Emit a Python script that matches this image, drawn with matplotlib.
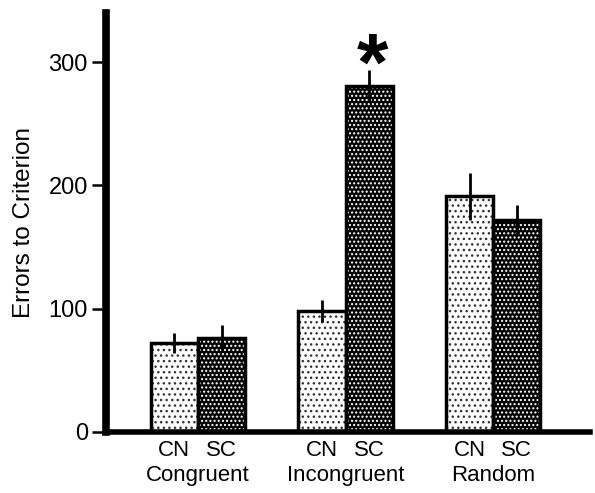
import matplotlib
matplotlib.use("Agg")
import matplotlib.pyplot as plt
import numpy as np

plt.rcParams['font.family'] = ['Liberation Sans', 'DejaVu Sans']
plt.rcParams['hatch.linewidth'] = 1.0

groups = ["Congruent", "Incongruent", "Random"]
subgroups = ["CN", "SC"]
cn_values = [72, 98, 191]
sc_values = [76, 281, 172]
cn_err = [8, 9, 19]
sc_err = [11, 13, 12]
yticks = [0, 100, 200, 300]

fig = plt.figure(figsize=(5.95, 4.93), dpi=100)
ax = fig.add_axes([0.178, 0.124, 0.814, 0.85])

x = np.arange(len(groups))
w = 0.32

# fills with patterns
ax.bar(x - w/2, cn_values, w, color='white', edgecolor='#333333', hatch='...', linewidth=0, zorder=1)
ax.bar(x + w/2, sc_values, w, color='black', edgecolor='white', hatch='....', linewidth=0, zorder=1)
# outlines
ax.bar(x - w/2, cn_values, w, fill=False, edgecolor='black', linewidth=2.5, zorder=2)
ax.bar(x + w/2, sc_values, w, fill=False, edgecolor='black', linewidth=2.5, zorder=2)
# error bars
ax.errorbar(x - w/2, cn_values, yerr=cn_err, fmt='none', ecolor='black', elinewidth=2, capsize=0, zorder=3)
ax.errorbar(x + w/2, sc_values, yerr=sc_err, fmt='none', ecolor='black', elinewidth=2, capsize=0, zorder=3)

ax.text(1 + w/2 + 0.02, 295, '*', fontsize=58, ha='center', va='center', fontweight='bold')

ax.set_xlim(-0.624, 2.658)
ax.set_ylim(0, 340)
ax.set_yticks(yticks)
ax.set_yticklabels([str(t) for t in yticks], fontsize=17)
ax.tick_params(axis='y', length=10, width=1.8, direction='out', pad=3)
ax.set_xticks([])
ax.set_ylabel("Errors to Criterion", fontsize=17.5, labelpad=10)

for s in ['top', 'right']:
    ax.spines[s].set_visible(False)
ax.spines['left'].set_linewidth(5.5)
ax.spines['bottom'].set_linewidth(4)

for i, g in enumerate(groups):
    for j, sg in enumerate(subgroups):
        ax.text(i + (j - 0.5) * w, -7, sg, fontsize=16, ha='center', va='top')
    ax.text(i, -27, g, fontsize=16, ha='center', va='top')

fig.savefig("out.png", dpi=100)
